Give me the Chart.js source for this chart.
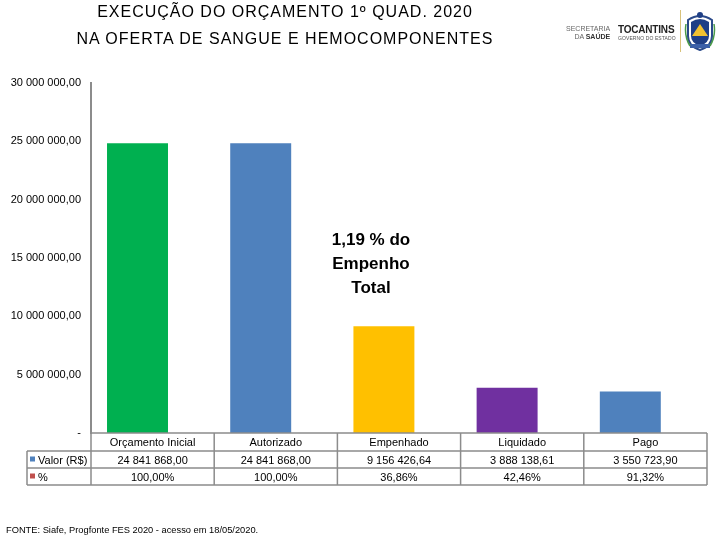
<!DOCTYPE html>
<html>
<head>
<meta charset="utf-8">
<script src="https://cdn.jsdelivr.net/npm/chart.js@4.4.1/dist/chart.umd.min.js"></script>
<style>
  html, body { margin:0; padding:0; background:#fff; }
  #wrap { position:relative; width:720px; height:540px; overflow:hidden; font-family:"Liberation Sans", Arial, sans-serif; }
  canvas { position:absolute; left:0; top:0; }
  .title { position:absolute; left:0; width:570px; text-align:center; font-size:16px; letter-spacing:1px; color:#000; white-space:nowrap; }
  #foot { position:absolute; left:6px; top:525px; font-size:9.3px; color:#000; white-space:nowrap; }
  #logo1 { position:absolute; left:566px; top:25px; font-size:7px; color:#666; text-align:right; line-height:8px; }
  #logo2 { position:absolute; left:618px; top:24px; font-size:10px; font-weight:bold; color:#222; line-height:11px; letter-spacing:-0.2px; }
  #logo2 span { display:block; font-size:5px; font-weight:normal; color:#555; line-height:7px; letter-spacing:0.1px; }
  #vline { position:absolute; left:680px; top:10px; width:1px; height:42px; background:#d8c27a; }
  #crest { position:absolute; left:684px; top:10px; }
</style>
</head>
<body>
<div id="wrap">
  <canvas id="c" width="720" height="540"></canvas>
  <div class="title" style="top:3px">EXECUÇÃO DO ORÇAMENTO 1º QUAD. 2020</div>
  <div class="title" style="top:30px">NA OFERTA DE SANGUE E HEMOCOMPONENTES</div>
  <div id="logo1">SECRETARIA<br>DA <b style="color:#333">SAÚDE</b></div>
  <div id="logo2">TOCANTINS<span>GOVERNO DO ESTADO</span></div>
  <div id="vline"></div>
  <svg id="crest" width="32" height="42" viewBox="0 0 32 42">
    <path d="M4 10 Q16 2 28 10 L28 26 Q28 36 16 40 Q4 36 4 26 Z" fill="#fff" stroke="#2b4a8a" stroke-width="2"/>
    <path d="M7 12 Q16 6 25 12 L25 26 Q25 33 16 36 Q7 33 7 26 Z" fill="#1f3f86"/>
    <path d="M16 14 L24 26 L8 26 Z" fill="#f2c230"/>
    <circle cx="16" cy="5" r="3" fill="#1f3f86"/>
    <rect x="6" y="34" width="20" height="4" fill="#3a5fa8"/>
    <path d="M2 14 Q0 26 6 36" fill="none" stroke="#4a9a4a" stroke-width="1.5"/>
    <path d="M30 14 Q32 26 26 36" fill="none" stroke="#4a9a4a" stroke-width="1.5"/>
  </svg>
  <div id="foot">FONTE: Siafe, Progfonte FES 2020 - acesso em 18/05/2020.</div>
</div>
<script>
// ---- data ----
const categories = ["Orçamento Inicial", "Autorizado", "Empenhado", "Liquidado", "Pago"];
const valores = [24841868.00, 24841868.00, 9156426.64, 3888138.61, 3550723.90];
const percentuais = [1.0000, 1.0000, 0.3686, 0.4246, 0.9132];
const barColors = ["#00B050", "#4F81BD", "#FFC000", "#7030A0", "#4F81BD"];
const seriesNames = ["Valor (R$)", "%"];
const seriesColors = ["#4F81BD", "#C0504D"];
const yTicks = [0, 5000000, 10000000, 15000000, 20000000, 25000000, 30000000];
const annotationLines = ["1,19 % do", "Empenho", "Total"];

function fmtMoney(v) {
  const parts = v.toFixed(2).split(".");
  const intPart = parts[0].replace(/\B(?=(\d{3})+(?!\d))/g, " ");
  return intPart + "," + parts[1];
}
function fmtPct(v) {
  return (v * 100).toFixed(2).replace(".", ",") + "%";
}

const FONT = '"Liberation Sans", Arial, sans-serif';

const tablePlugin = {
  id: 'tablePlugin',
  afterDraw(chart) {
    const ctx = chart.ctx;
    const ca = chart.chartArea;
    const xs = chart.scales.x;
    const n = categories.length;
    const colW = (ca.right - ca.left) / n;
    const top = ca.bottom;
    const r1 = top + 18, r2 = r1 + 17, r3 = r2 + 17;
    const legL = 27;
    ctx.save();
    ctx.strokeStyle = "#8c8c8c";
    ctx.lineWidth = 1.5;
    ctx.beginPath();
    ctx.moveTo(ca.left, top); ctx.lineTo(ca.right, top);
    [r1, r2, r3].forEach(y => { ctx.moveTo(legL, y); ctx.lineTo(ca.right, y); });
    ctx.moveTo(legL, r1); ctx.lineTo(legL, r3);
    ctx.moveTo(ca.left, top); ctx.lineTo(ca.left, r3);
    for (let i = 1; i <= n; i++) {
      const x = ca.left + colW * i;
      ctx.moveTo(x, top); ctx.lineTo(x, r3);
    }
    ctx.stroke();

    ctx.fillStyle = "#000";
    ctx.font = "11px " + FONT;
    ctx.textAlign = "center";
    ctx.textBaseline = "middle";
    for (let i = 0; i < n; i++) {
      const cx = ca.left + colW * (i + 0.5);
      ctx.fillText(categories[i], cx, (top + r1) / 2 + 1);
      ctx.fillText(fmtMoney(valores[i]), cx, (r1 + r2) / 2 + 1);
      ctx.fillText(fmtPct(percentuais[i]), cx, (r2 + r3) / 2 + 1);
    }
    // legend cells
    ctx.textAlign = "left";
    [[r1, r2], [r2, r3]].forEach((rr, k) => {
      const my = (rr[0] + rr[1]) / 2;
      ctx.fillStyle = seriesColors[k];
      ctx.fillRect(legL + 3, my - 3, 5, 5);
      ctx.fillStyle = "#000";
      ctx.fillText(seriesNames[k], legL + 11, my + 1);
    });

    // annotation
    const ax = xs.getPixelForValue(2) - 28;
    ctx.font = "bold 17px " + FONT;
    ctx.textAlign = "center";
    const y0 = chart.scales.y.getPixelForValue(16500000);
    annotationLines.forEach((t, i) => ctx.fillText(t, ax, y0 + i * 24));
    ctx.restore();
  }
};

new Chart(document.getElementById('c'), {
  type: 'bar',
  data: {
    labels: categories,
    datasets: [
      {
        label: seriesNames[0],
        data: valores,
        backgroundColor: barColors,
        borderWidth: 0,
        categoryPercentage: 0.49,
        barPercentage: 2.02
      },
      {
        label: seriesNames[1],
        data: percentuais,
        backgroundColor: seriesColors[1],
        borderWidth: 0,
        categoryPercentage: 0.49,
        barPercentage: 2.02
      }
    ]
  },
  options: {
    responsive: false,
    animation: false,
    layout: { padding: { left: 0, top: 83, right: 13, bottom: 107 } },
    plugins: { legend: { display: false }, tooltip: { enabled: false } },
    scales: {
      x: { display: false, grid: { display: false } },
      y: {
        min: 0, max: 30000000,
        afterFit(s) { s.width = 91; },
        afterBuildTicks(s) { s.ticks = yTicks.map(v => ({ value: v })); },
        grid: { display: false, drawTicks: false },
        border: { display: true, color: "#8c8c8c", width: 2 },
        ticks: {
          padding: 10,
          color: "#000",
          font: { family: FONT, size: 11 },
          callback: (v) => v === 0 ? "-" : fmtMoney(v)
        }
      }
    }
  },
  plugins: [tablePlugin]
});
</script>
</body>
</html>
